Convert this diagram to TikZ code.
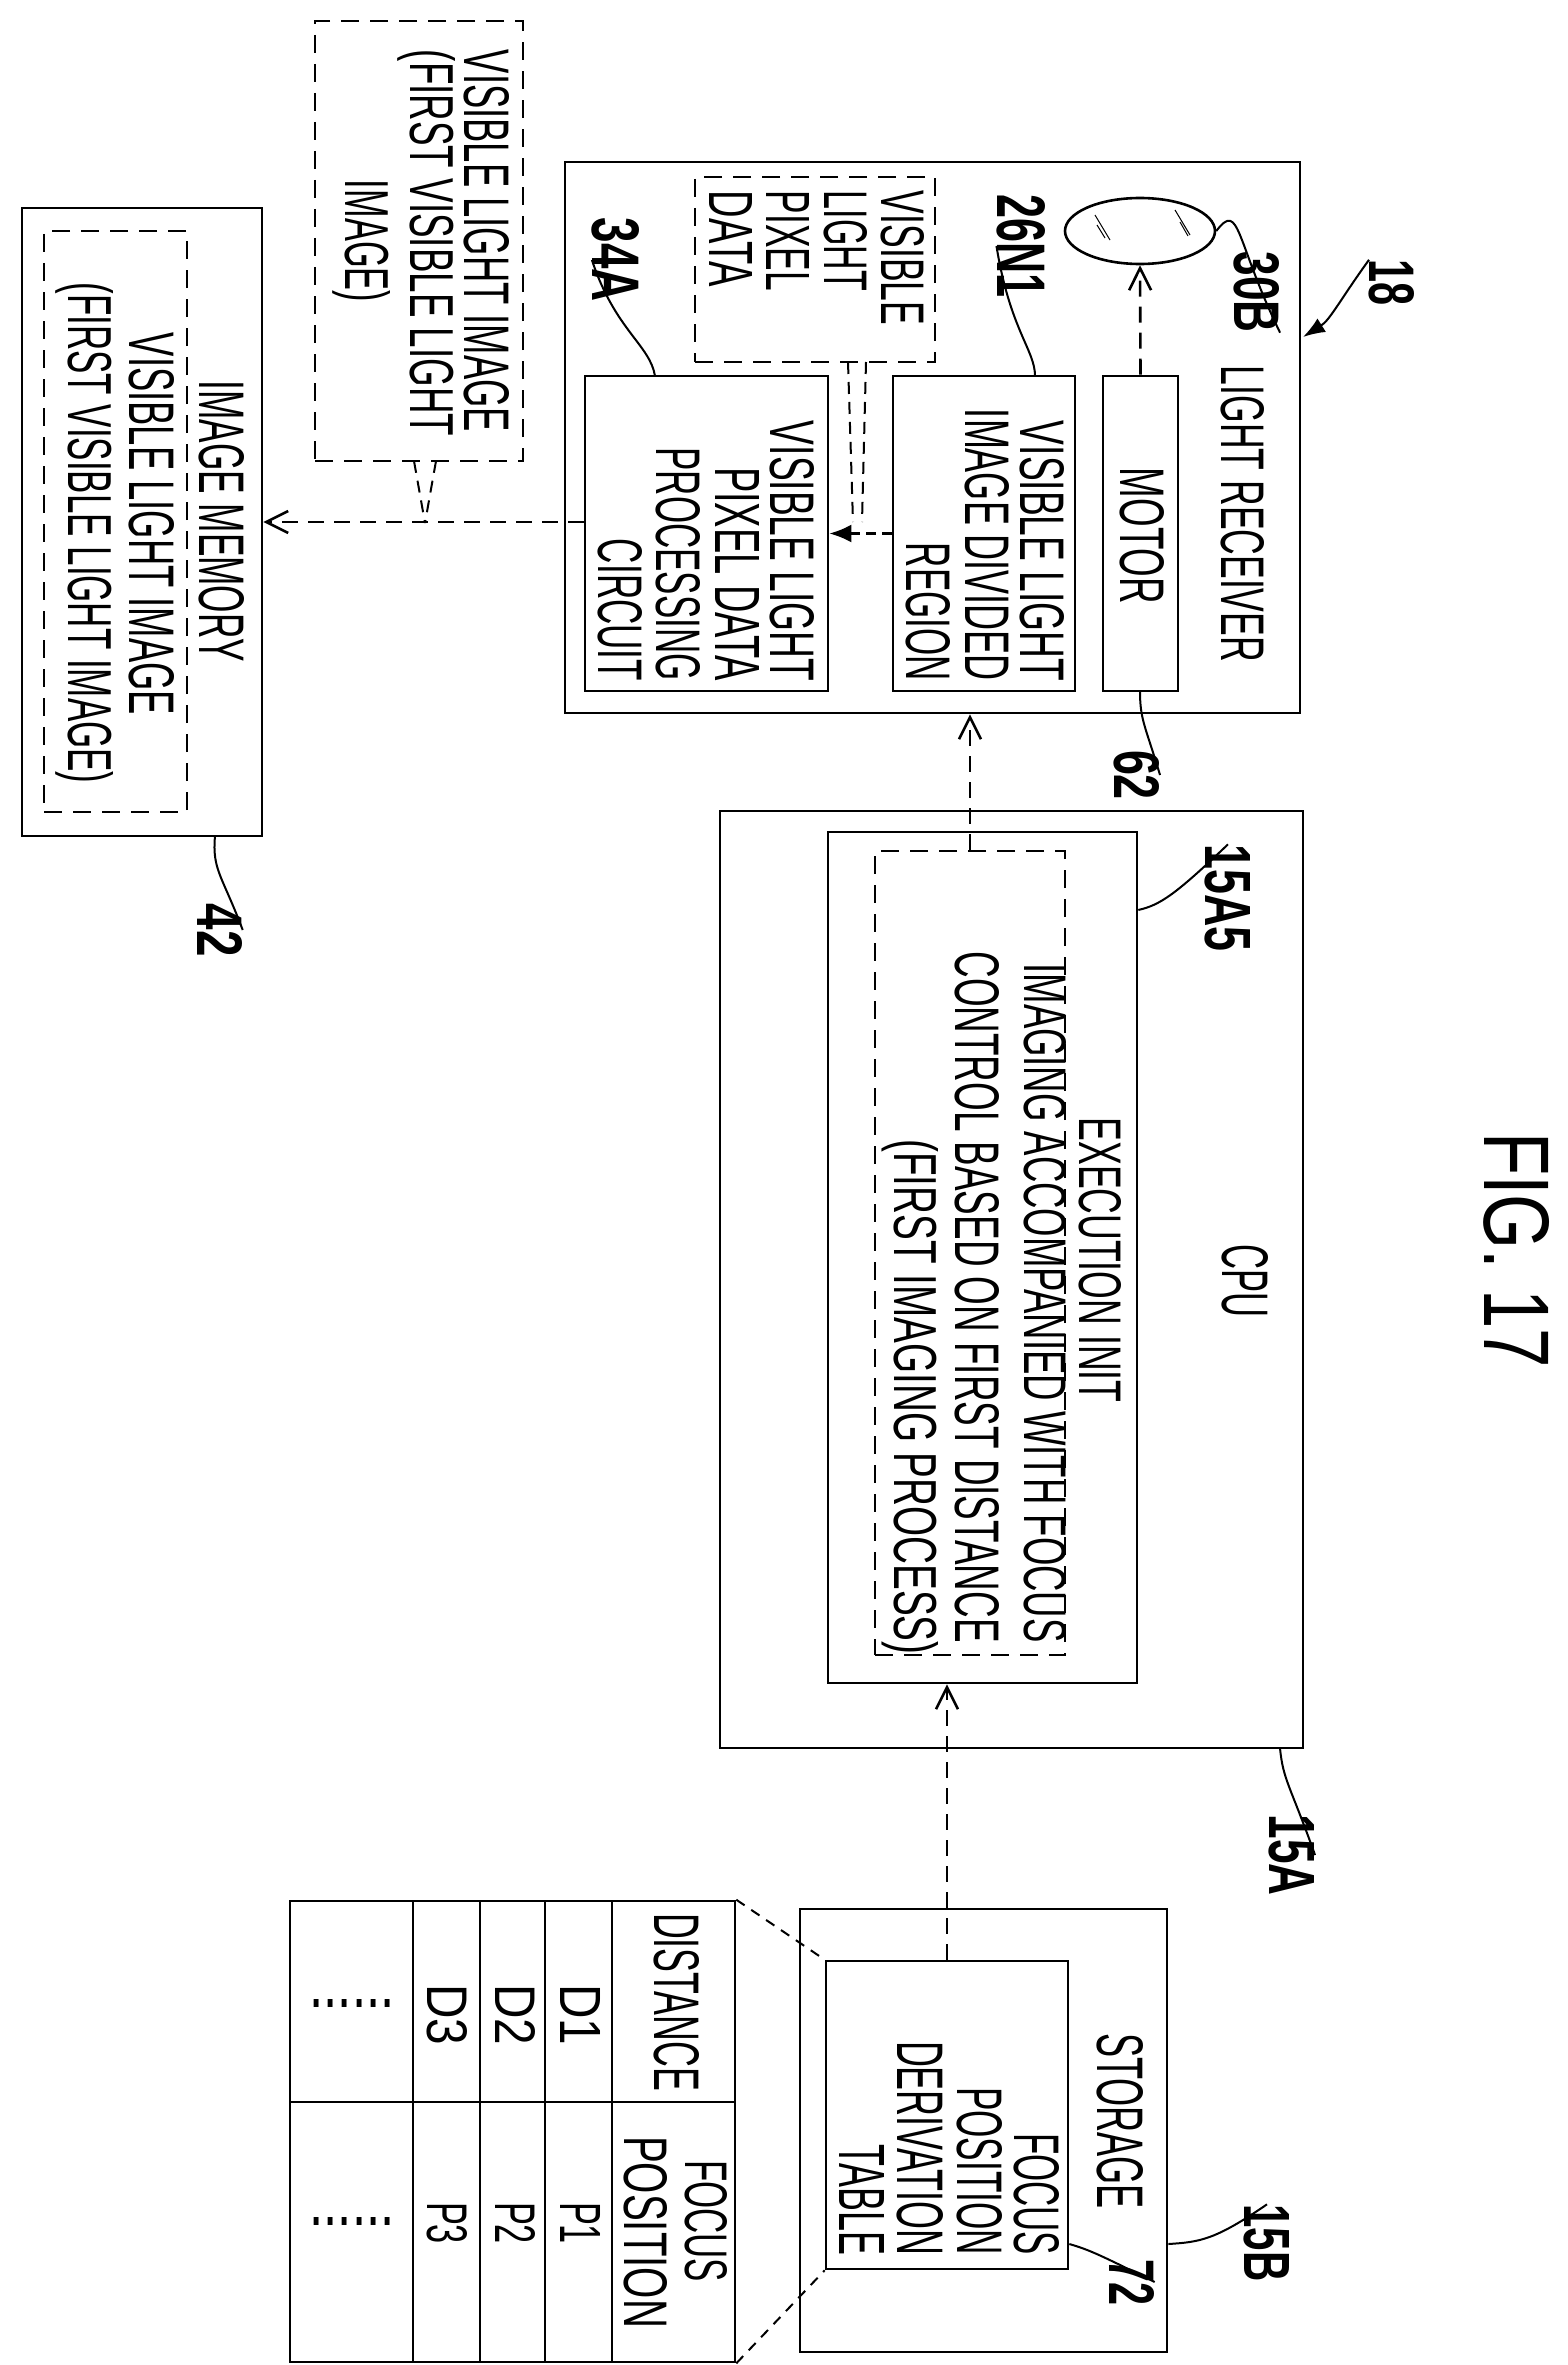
\documentclass[tikz,border=0pt]{standalone}
\usepackage{fontspec}
\setmainfont{Liberation Sans}
\usetikzlibrary{arrows.meta,shapes.geometric}
\newcommand\fitt[3]{\resizebox{#1pt}{#2pt}{#3}}
\begin{document}
\begin{tikzpicture}[x=1pt,y=-1pt,
  lw/.style={line width=2.6pt},
  box/.style={draw,lw,inner sep=0,minimum width=#1},
  dbox/.style={box=#1,dash pattern=on 18pt off 11pt},
  t/.style={rotate=-90,inner sep=0},
  darr/.style={lw,dash pattern=on 16pt off 10pt,-{Straight Barb[length=22pt,width=22pt,line width=2.6pt]}},
  lead/.style={line width=2pt}]
\useasboundingbox (0,0) rectangle (1567,2365);
% boxes
\node[box=735pt,minimum height=551pt] (lr) at (932.5,437.5) {};
\node[box=75pt,minimum height=315pt] (mot) at (1140.5,533.5) {};
\node[box=182pt,minimum height=315pt] (vlidr) at (984,533.5) {};
\node[box=243pt,minimum height=315pt] (circ) at (706.5,533.5) {};
\node[dbox=240pt,minimum height=185pt] (vlpd) at (815,269.5) {};
\node[dbox=208pt,minimum height=440pt] (vli) at (419,241) {};
\node[box=240pt,minimum height=628pt] (im) at (142,522) {};
\node[dbox=143pt,minimum height=581pt] (imi) at (115.5,521.5) {};
\node[box=583pt,minimum height=937pt] (cpu) at (1011.5,1279.5) {};
\node[box=309pt,minimum height=851pt] (a15) at (982.5,1257.5) {};
\node[dbox=190pt,minimum height=804pt] (exec) at (970,1253) {};
\node[box=367pt,minimum height=443pt] (sto) at (983.5,2130.5) {};
\node[box=242pt,minimum height=308pt] (fpdt) at (947,2115) {};
\node[draw,lw,ellipse,minimum width=150pt,minimum height=66pt,inner sep=0] (lens) at (1140,231) {};
\draw[line width=1pt] (1095,215)--(1110,240) (1097,225)--(1105,238) (1175,210)--(1190,235) (1180,222)--(1188,236);
% table
\node[box=445pt,minimum height=461pt] (tab) at (512.5,2131.5) {};
\draw[lw] (413,1901)--(413,2362) (480,1901)--(480,2362) (545,1901)--(545,2362) (612,1901)--(612,2362) (290,2102)--(735,2102);
\draw[lead,dash pattern=on 10pt off 8pt] (tab.north east)--(fpdt.north west) (tab.south east)--(fpdt.south west);
% callout tails
\coordinate (vt) at (425,523);
\draw[lead,dash pattern=on 12pt off 8pt] (414,461)--(vt) (436,461)--(vt);
\draw[lead,dash pattern=on 12pt off 8pt] (848,362)--(853,522) (866,362)--(862,522);
% arrows
\draw[darr] (mot.north)--(lens.south);
\draw[lw,dash pattern=on 10pt off 6pt,-{Latex[length=22pt,width=18pt]}] (vlidr.west)--(circ.east);
\draw[darr] (circ.west |- im.east)--(im.east);
\draw[darr] (exec.north)--(exec.north |- lr.south);
\draw[darr] (fpdt.north)--(fpdt.north |- a15.south);
% texts
\node[t] (n1) at (1243,514) {\fitt{296}{43}{LIGHT RECEIVER}};
\node[t] (n2) at (1142,536) {\fitt{136}{44}{MOTOR}};
\node[t] (n3) at (1042,551) {\fitt{260}{44}{VISIBLE LIGHT}};
\node[t] (n4) at (987,545) {\fitt{272}{44}{IMAGE DIVIDED}};
\node[t] (n5) at (928,612) {\fitt{138}{44}{REGION}};
\node[t] (n6) at (792,551) {\fitt{260}{44}{VISIBLE LIGHT}};
\node[t] (n7) at (737,574) {\fitt{214}{44}{PIXEL DATA}};
\node[t] (n8) at (678,564) {\fitt{233}{44}{PROCESSING}};
\node[t] (n9) at (620,610) {\fitt{142}{44}{CIRCUIT}};
\node[t] (n10) at (903,258) {\fitt{134}{43}{VISIBLE}};
\node[t] (n11) at (846,241) {\fitt{100}{43}{LIGHT}};
\node[t] (n12) at (788,241) {\fitt{100}{43}{PIXEL}};
\node[t] (n13) at (731,239) {\fitt{96}{43}{DATA}};
\node[t] (l26) at (1021,246) {\fitt{103}{48}{\bfseries 26N1}};
\node[t] (l34) at (616,260) {\fitt{84}{47}{\bfseries 34A}};
\node[t] (l30) at (1257,292) {\fitt{81}{45}{\bfseries 30B}};
\node[t] (l18) at (1392,283) {\fitt{46}{45}{\bfseries 18}};
\node[t] (l62) at (1137,775) {\fitt{50}{45}{\bfseries 62}};
\node[t] (n19) at (487,241) {\fitt{382}{45}{VISIBLE LIGHT IMAGE}};
\node[t] (n20) at (427,243) {\fitt{386}{45}{(FIRST VISIBLE LIGHT}};
\node[t] (n21) at (362,241) {\fitt{122}{45}{IMAGE)}};
\node[t] (n22) at (222,521) {\fitt{281}{45}{IMAGE MEMORY}};
\node[t] (n23) at (152,524) {\fitt{382}{45}{VISIBLE LIGHT IMAGE}};
\node[t] (n24) at (85,533) {\fitt{501}{45}{(FIRST VISIBLE LIGHT IMAGE)}};
\node[t] (l42) at (220,930) {\fitt{53}{45}{\bfseries 42}};
\node[t] (l15a5) at (1228,898) {\fitt{107}{45}{\bfseries 15A5}};
\node[t] (n27) at (1245,1281) {\fitt{73}{46}{CPU}};
\node[t] (fig) at (1517,1250) {\fitt{236}{65}{FIG. 17}};
\node[t] (n29) at (1100,1260) {\fitt{285}{42}{EXECUTION INIT}};
\node[t] (n30) at (1045,1303) {\fitt{679}{42}{IMAGING ACCOMPANIED WITH FOCUS}};
\node[t] (n31) at (977,1297) {\fitt{691}{44}{CONTROL BASED ON FIRST DISTANCE}};
\node[t] (n32) at (910,1397) {\fitt{515}{44}{(FIRST IMAGING PROCESS)}};
\node[t] (l15a) at (1292,1855) {\fitt{81}{45}{\bfseries 15A}};
\node[t] (n34) at (1120,2121) {\fitt{176}{46}{STORAGE}};
\node[t] (n35) at (1037,2194) {\fitt{122}{45}{FOCUS}};
\node[t] (n36) at (980,2171) {\fitt{168}{45}{POSITION}};
\node[t] (n37) at (920,2148) {\fitt{214}{46}{DERIVATION}};
\node[t] (n38) at (862,2200) {\fitt{111}{45}{TABLE}};
\node[t] (l72) at (1132,2282) {\fitt{46}{45}{\bfseries 72}};
\node[t] (l15b) at (1267,2243) {\fitt{77}{45}{\bfseries 15B}};
\node[t] (n41) at (677,2002) {\fitt{178}{45}{DISTANCE}};
\node[t] (n42) at (706,2221) {\fitt{122}{42}{FOCUS}};
\node[t] (n43) at (646,2232) {\fitt{192}{43}{POSITION}};
\node[t] (d1) at (580,2015) {\fitt{61}{40}{D1}};
\node[t] (d2) at (515,2015) {\fitt{61}{40}{D2}};
\node[t] (d3) at (447,2015) {\fitt{61}{40}{D3}};
\node[t] (p1) at (580,2223) {\fitt{42}{40}{P1}};
\node[t] (p2) at (515,2223) {\fitt{42}{40}{P2}};
\node[t] (p3) at (447,2223) {\fitt{42}{40}{P3}};
\node[inner sep=0] (dots1) at (352,2003) {\fitt{85}{8}{......}};
\node[inner sep=0] (dots2) at (352,2221) {\fitt{85}{8}{......}};
% leaders
\draw[lead] (lens.east) .. controls (1240,200) and (1235,240) .. (l30.north east);
\draw[lead,-{Latex[length=22pt,width=16pt]}] (l18.south west) .. controls (1340,300) and (1330,320) .. (1303,337);
\draw[lead] (l26.south) .. controls (1010,330) and (1035,350) .. (1035,376);
\draw[lead] (l34.south) .. controls (615,330) and (650,345) .. (655,376);
\draw[lead] (1140,691) .. controls (1140,720) and (1145,725) .. (l62.north);
\draw[lead] (215,836) .. controls (212,870) and (222,875) .. (l42.north);
\draw[lead] (a15.east |- 0,910) .. controls (1160,905) and (1175,895) .. (l15a5.west);
\draw[lead] (1280,1748) .. controls (1283,1780) and (1290,1785) .. (l15a.north);
\draw[lead] (fpdt.east |- 0,2244) .. controls (1090,2250) and (1100,2255) .. (l72.north);
\draw[lead] (sto.east |- 0,2244) .. controls (1200,2242) and (1215,2240) .. (l15b.west);
\end{tikzpicture}
\end{document}
